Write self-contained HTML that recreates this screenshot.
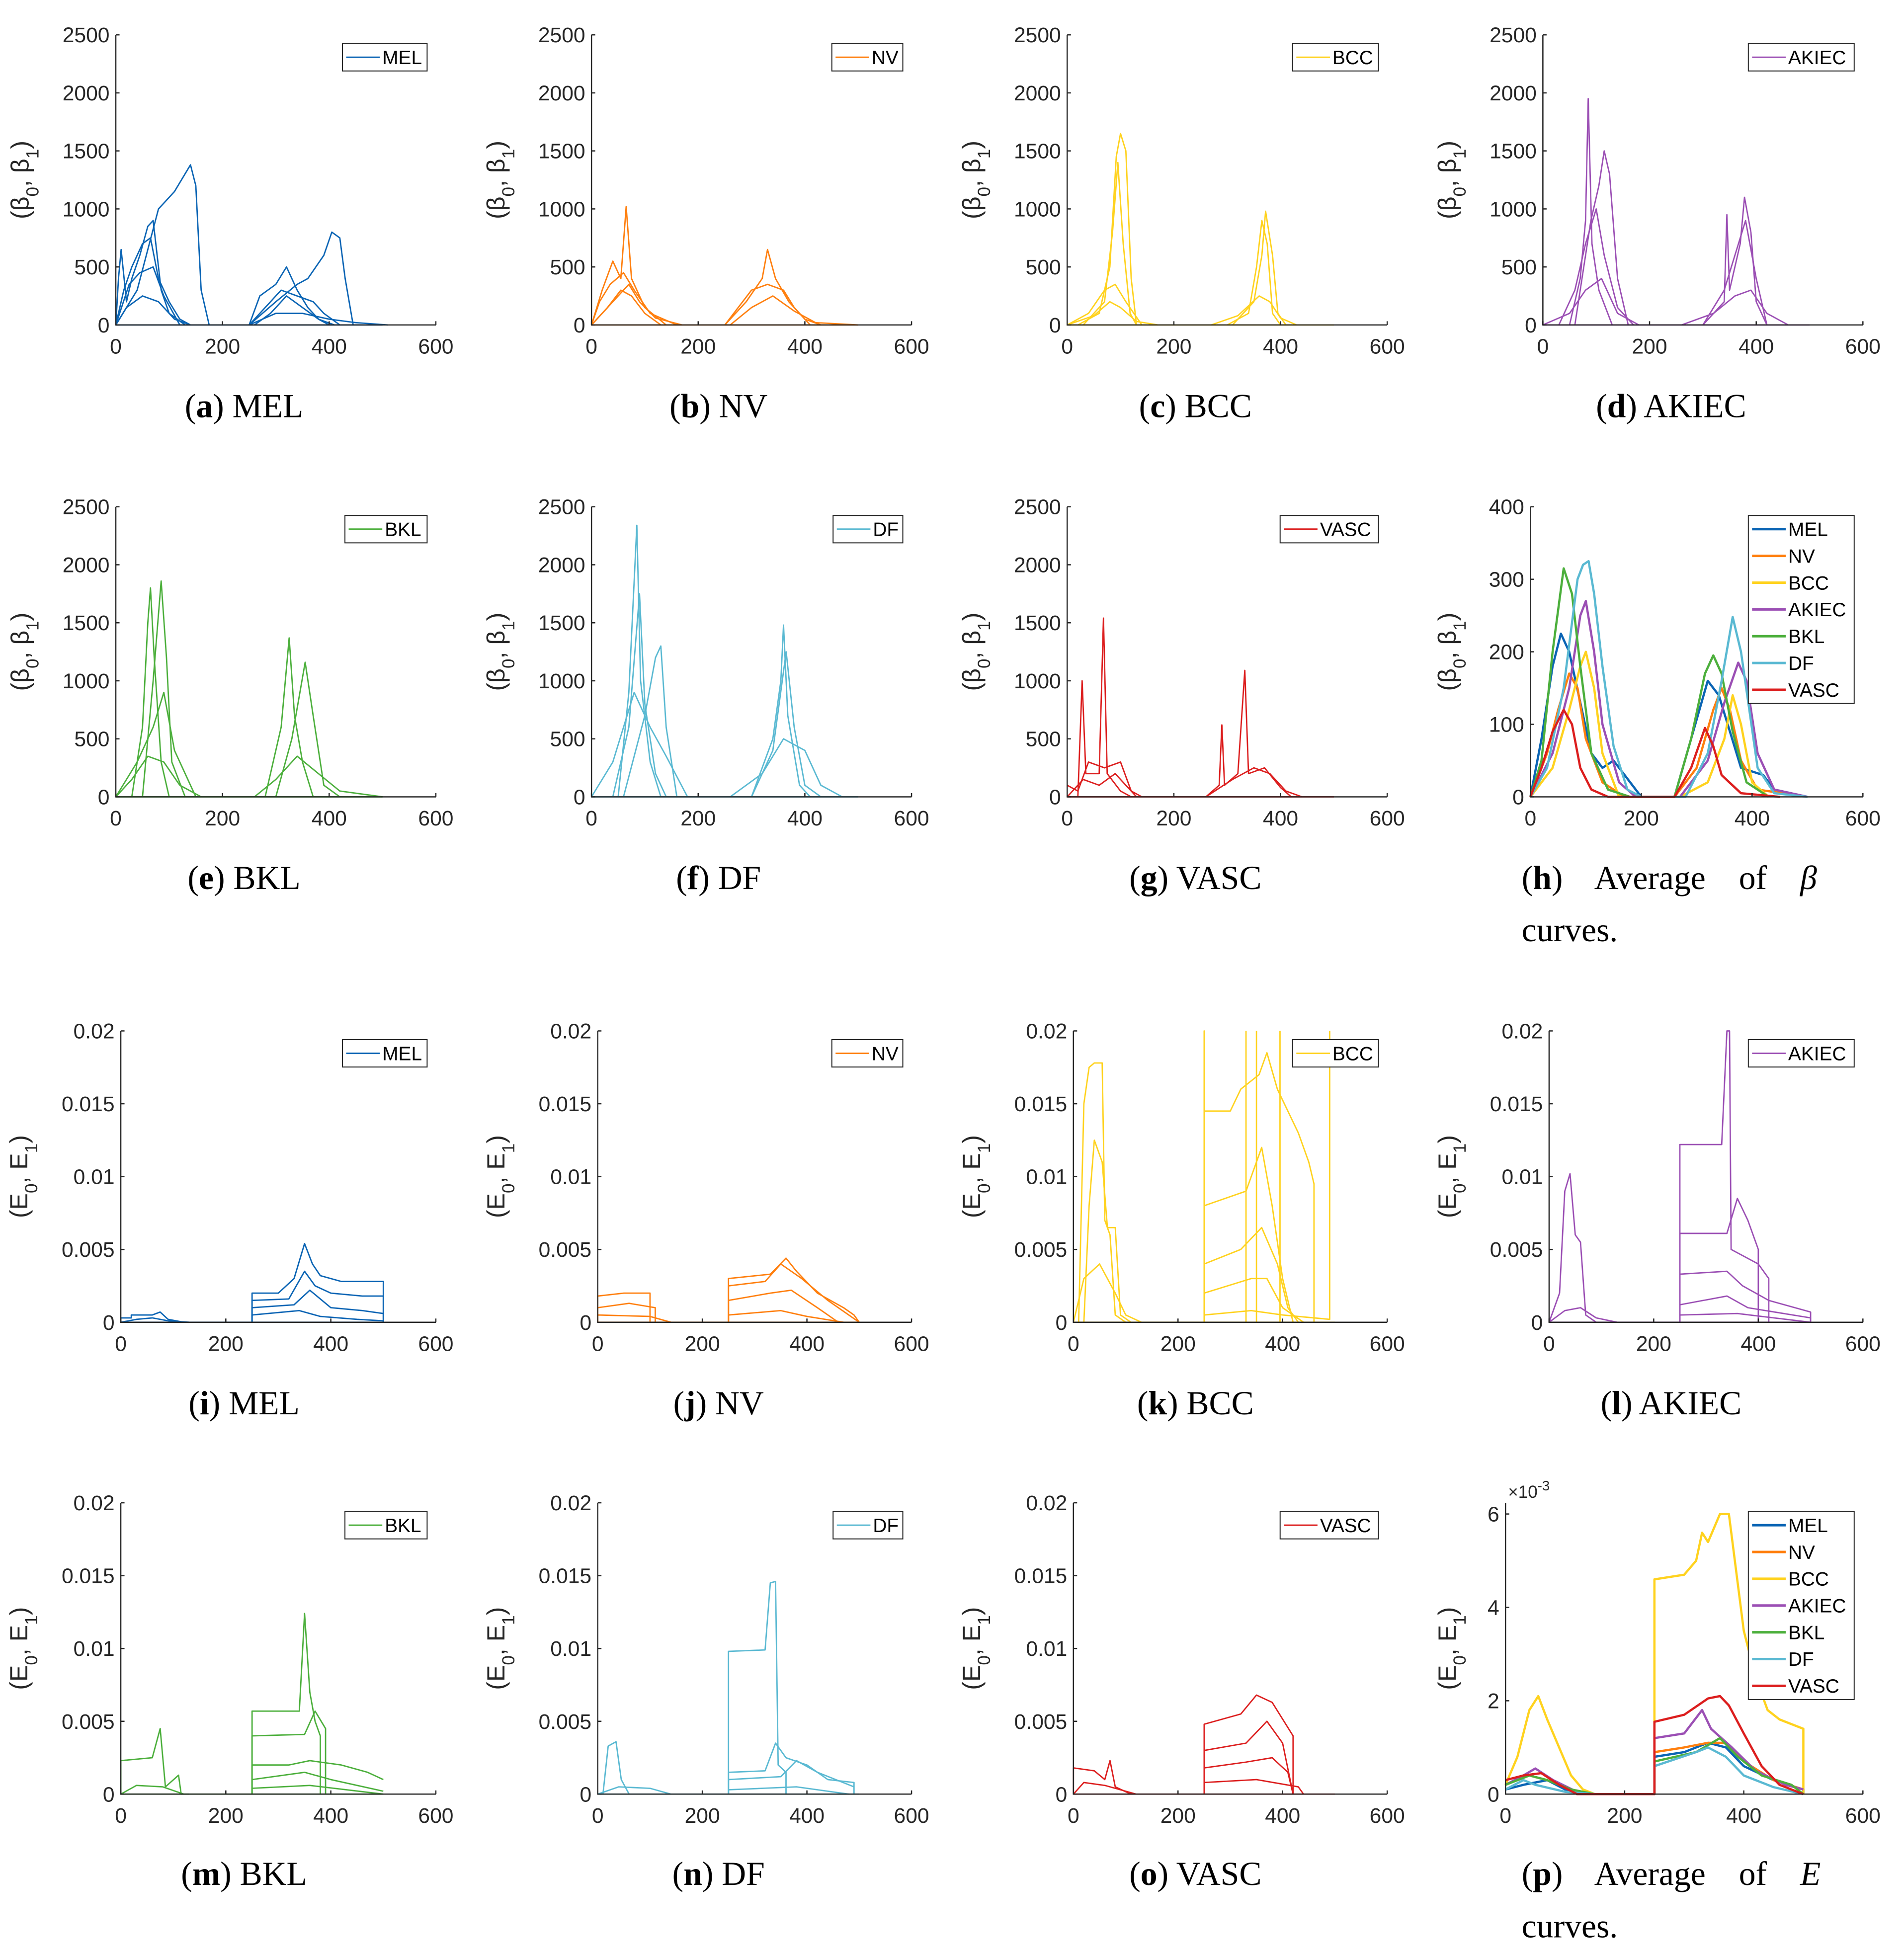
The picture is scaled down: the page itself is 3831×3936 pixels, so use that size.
<!DOCTYPE html>
<html><head><meta charset="utf-8"><style>
html,body{margin:0;padding:0;background:#fff}
svg{display:block}
text{font-family:"Liberation Sans",sans-serif}
.cap{font-family:"Liberation Serif",serif;font-size:27px}
</style></head><body>
<svg id="fig" width="3831" height="3936" viewBox="0 0 1529 1571" preserveAspectRatio="none" xmlns="http://www.w3.org/2000/svg"></svg>
<script>
// ---------- DATA (x = filtration index, y = curve value) ----------
const betaTicks = [0,500,1000,1500,2000,2500];
const avgBetaTicks = [0,100,200,300,400];
const eTicks = [0,5,10,15,20];          // units of 1e-3
const eTickLabels = ["0","0.005","0.01","0.015","0.02"];
const avgETicks = [0,2,4,6];             // units of 1e-3
const xTicks = [0,200,400,600];
const classes = ["MEL","NV","BCC","AKIEC","BKL","DF","VASC"];
const colors = ["#0a64b4","#ff7f0e","#ffd21e","#9b4fb4","#4caf3c","#5ab9d2","#dc1e1e"];

const melBeta = [
[[0,0],[500,0]],
[[0,0],[5,400],[10,650],[20,200],[30,400],[45,600],[60,850],[70,900],[85,300],[100,100],[130,0]],
[[0,0],[15,300],[30,500],[50,700],[65,750],[80,400],[100,200],[120,50],[140,0]],
[[0,0],[40,300],[80,1000],[110,1150],[140,1380],[150,1200],[160,300],[175,0]],
[[0,0],[20,150],[50,250],[80,200],[110,50],[140,0]],
[[0,0],[25,350],[45,450],[70,500],[90,250],[120,0]],
[[250,0],[270,250],[300,350],[320,500],[340,300],[360,150],[380,50],[400,0]],
[[250,0],[280,150],[310,300],[340,250],[370,200],[390,100],[420,0]],
[[250,0],[300,200],[340,350],[360,400],[390,600],[405,800],[420,750],[430,400],[445,0]],
[[260,0],[290,100],[320,250],[350,150],[380,50],[410,0]],
[[250,0],[300,100],[350,100],[400,50],[450,20],[510,0]]];
const nvBeta = [
[[0,0],[500,0]],
[[0,0],[20,300],[40,550],[55,400],[65,1020],[75,400],[100,150],[140,0]],
[[0,0],[15,200],[35,350],[60,450],[80,300],[110,100],[160,0]],
[[0,0],[30,150],[55,300],[75,250],[100,100],[130,0]],
[[0,0],[40,200],[70,350],[90,200],[120,60],[170,0]],
[[250,0],[290,200],[320,400],[330,650],[345,400],[370,200],[400,50],[430,0]],
[[250,0],[300,300],[330,350],[360,300],[380,150],[410,0]],
[[260,0],[300,150],[340,250],[380,120],[420,20],[500,0]]];
const bccBeta = [
[[0,0],[500,0]],
[[20,0],[60,100],[80,500],[92,1450],[100,1650],[110,1500],[120,400],[130,0]],
[[30,0],[70,200],[85,800],[95,1400],[105,700],[118,100],[130,0]],
[[0,0],[40,100],[70,300],[90,350],[110,200],[140,0]],
[[0,0],[50,80],[80,200],[100,150],[130,30],[170,0]],
[[300,0],[340,100],[355,500],[365,900],[375,700],[385,100],[400,0]],
[[310,0],[350,200],[365,600],[372,980],[385,600],[395,100],[410,0]],
[[270,0],[320,80],[360,250],[380,200],[400,60],[430,0]]];
const akiecBeta = [
[[0,0],[500,0]],
[[50,0],[70,400],[80,900],[85,1950],[92,700],[105,300],[130,0]],
[[60,0],[90,900],[105,1200],[115,1500],[125,1300],[140,400],[160,0]],
[[30,0],[60,300],[80,700],[100,1000],[115,600],[140,150],[170,0]],
[[0,0],[50,100],[80,300],[110,400],[140,100],[180,0]],
[[300,0],[340,200],[345,950],[350,300],[370,700],[378,1100],[390,800],[400,200],[420,0]],
[[300,0],[340,300],[360,600],[380,900],[400,400],[420,0]],
[[260,0],[320,100],[360,250],[390,300],[420,100],[460,0]]];
const bklBeta = [
[[0,0],[500,0]],
[[30,0],[50,600],[60,1500],[65,1800],[72,1200],[85,300],[100,0]],
[[50,0],[70,1000],[85,1860],[95,1200],[105,300],[130,0]],
[[0,0],[40,300],[70,600],[90,900],[110,400],[150,0]],
[[0,0],[30,150],[60,350],[90,300],[120,100],[160,0]],
[[280,0],[310,600],[325,1370],[335,700],[350,300],[370,0]],
[[300,0],[330,500],[355,1160],[370,700],[390,100],[420,0]],
[[260,0],[300,150],[340,350],[380,200],[420,50],[500,0]]];
const dfBeta = [
[[0,0],[500,0]],
[[50,0],[70,900],[85,2340],[92,1000],[110,300],[130,0]],
[[40,0],[70,600],[90,1750],[100,800],[120,200],[140,0]],
[[60,0],[100,700],[120,1200],[130,1300],[140,600],[160,0]],
[[0,0],[40,300],[80,900],[110,600],[140,350],[180,0]],
[[300,0],[340,500],[355,1000],[360,1480],[368,700],[390,100],[410,0]],
[[300,0],[340,400],[365,1250],[380,600],[400,100],[430,0]],
[[260,0],[320,200],[360,500],[400,400],[430,100],[470,0]]];
const vascBeta = [
[[0,0],[500,0]],
[[20,0],[28,1000],[35,200],[60,200],[68,1540],[75,200],[100,50],[120,0]],
[[0,100],[20,50],[40,300],[70,250],[100,300],[120,50],[140,0]],
[[0,0],[30,150],[60,100],[90,200],[130,0]],
[[260,0],[285,100],[290,620],[295,100],[320,200],[333,1090],[340,200],[370,250],[400,80],[420,0]],
[[260,0],[310,150],[350,250],[380,200],[410,50],[440,0]]];
const avgBeta = [
[[0,0],[20,80],[40,180],[55,225],[70,200],[90,130],[110,60],[130,40],[150,50],[170,30],[200,0],[260,0],[290,80],[320,160],[340,140],[360,90],[380,40],[400,35],[420,30],[440,10],[500,0]],
[[0,0],[30,60],[50,120],[70,170],[85,150],[100,80],[130,20],[170,0],[260,0],[300,40],[330,120],[345,150],[360,120],[380,50],[410,10],[500,0]],
[[0,0],[40,40],[70,120],[90,180],[100,200],[115,150],[130,60],[160,0],[270,0],[320,20],[350,80],[365,140],[380,100],[400,20],[430,0]],
[[0,0],[40,60],[70,150],[90,250],[100,270],[115,200],[130,100],[160,20],[190,0],[270,0],[320,50],[350,130],[375,185],[390,160],[410,60],[440,10],[500,0]],
[[0,0],[20,50],[40,200],[60,315],[75,280],[90,180],[110,60],[140,10],[180,0],[260,0],[290,80],[315,170],[330,195],[345,170],[365,90],[390,20],[430,0]],
[[0,0],[30,40],[60,150],[85,300],[95,320],[105,325],[115,280],[130,180],[150,70],[175,10],[200,0],[280,0],[320,60],[345,160],[365,248],[380,200],[395,120],[410,40],[440,5],[500,0]],
[[0,0],[20,40],[40,90],[60,120],[75,100],[90,40],[110,10],[140,0],[260,0],[290,40],[315,95],[330,70],[345,30],[380,5],[450,0]]];

// E curves in units of 1e-3
const melE = [
[[0,0],[500,0]],
[[0,0.3],[20,0.3],[20,0.5],[60,0.5],[75,0.7],[90,0.2],[120,0]],
[[0,0],[30,0.2],[60,0.3],[90,0.1],[130,0]],
[[250,0],[250,2.0],[300,2.0],[330,3.0],[350,5.4],[365,4.0],[380,3.2],[420,2.8],[500,2.8],[500,0]],
[[250,0],[250,1.5],[320,1.6],[350,3.5],[370,2.5],[400,2.0],[460,1.8],[500,1.8],[500,0]],
[[250,0],[250,1.0],[330,1.2],[360,2.2],[400,1.0],[460,0.8],[500,0.6],[500,0]],
[[250,0],[250,0.5],[340,0.8],[380,0.4],[450,0.2],[500,0.1],[500,0]]];
const nvE = [
[[0,0],[500,0]],
[[0,0],[0,1.8],[50,2.0],[100,2.0],[100,0]],
[[0,0],[0,1.0],[60,1.3],[110,1.0],[110,0]],
[[0,0],[0,0.5],[100,0.4],[140,0]],
[[250,0],[250,3.0],[330,3.3],[360,4.4],[380,3.5],[420,2.0],[470,1.0],[490,0.5],[500,0]],
[[250,0],[250,2.5],[320,2.8],[350,4.0],[390,3.0],[440,1.5],[480,0.5],[500,0]],
[[250,0],[250,1.5],[330,2.0],[370,2.2],[420,1.0],[460,0]],
[[250,0],[250,0.5],[350,0.8],[400,0.4],[470,0]]];
const bccE = [
[[0,0],[500,0]],
[[10,0],[20,15],[30,17.5],[40,17.8],[55,17.8],[60,7],[70,6],[80,0.5],[100,0]],
[[20,0],[30,8],[40,12.5],[55,11],[65,6.5],[80,6.5],[90,0.5],[110,0]],
[[0,0],[20,3],[50,4],[80,2],[100,0.5],[130,0]],
[[250,0],[250,20],[250,14.5],[300,14.5],[320,16],[355,17],[370,18.5],[390,16],[430,13],[450,11],[460,9.5],[460,0]],
[[250,0],[250,8],[330,9],[360,12],[380,8],[400,3],[420,0]],
[[250,0],[250,4],[320,5],[360,6.5],[390,4],[410,1],[430,0]],
[[250,0],[250,2],[340,3],[370,3],[400,1],[440,0]],
[[250,0],[250,0.5],[340,0.8],[400,0.5],[490,0.2],[490,20]],
[[330,0],[330,20]],[[350,0],[350,20]],[[395,0],[395,20]]];
const akiecE = [
[[0,0],[500,0]],
[[0,0],[20,2],[30,9],[40,10.2],[50,6],[60,5.5],[70,0.5],[90,0]],
[[0,0],[30,0.8],[60,1.0],[90,0.3],[130,0]],
[[250,0],[250,12.2],[330,12.2],[340,20],[345,20],[348,5],[400,4],[420,3],[420,0]],
[[250,0],[250,6.1],[340,6.1],[360,8.5],[380,7],[400,5],[400,0]],
[[250,0],[250,3.3],[340,3.5],[370,2.5],[420,1.5],[500,0.7],[500,0]],
[[250,0],[250,1.2],[340,1.8],[380,1.0],[500,0.3],[500,0]],
[[250,0],[250,0.5],[360,0.6],[500,0]]];
const bklE = [
[[0,0],[500,0]],
[[0,0],[0,2.3],[60,2.5],[75,4.5],[85,0.5],[110,1.3],[115,0],[130,0]],
[[0,0],[30,0.6],[80,0.5],[120,0]],
[[250,0],[250,5.7],[340,5.7],[350,12.4],[360,7],[370,5],[380,4],[380,0]],
[[250,0],[250,4.0],[350,4.1],[370,5.7],[390,4.5],[390,0]],
[[250,0],[250,2.0],[320,2.0],[360,2.3],[420,2.0],[470,1.5],[500,1.0]],
[[250,0],[250,1.0],[350,1.5],[400,1.0],[500,0.2]],
[[250,0],[250,0.4],[360,0.6],[500,0]]];
const dfE = [
[[0,0],[500,0]],
[[10,0],[20,3.3],[35,3.6],[45,1.0],[60,0]],
[[0,0],[40,0.5],[100,0.4],[140,0]],
[[250,0],[250,9.8],[320,9.9],[330,14.5],[340,14.6],[345,2],[360,1.5],[360,0]],
[[250,0],[250,1.5],[320,1.6],[340,3.5],[360,2.5],[400,2.0],[440,1],[490,0.8],[490,0]],
[[250,0],[250,1.0],[350,1.2],[380,2.3],[420,1.5],[490,0.5]],
[[250,0],[250,0.3],[380,0.5],[480,0]]];
const vascE = [
[[0,0],[500,0]],
[[0,0],[0,1.8],[40,1.6],[60,1.0],[70,2.3],[80,0.5],[110,0]],
[[0,0],[20,0.8],[60,0.6],[120,0]],
[[250,0],[250,4.8],[320,5.5],[350,6.8],[380,6.3],[420,4.0],[420,0]],
[[250,0],[250,3.0],[330,3.5],[370,5.0],[400,3.5],[420,0]],
[[250,0],[250,1.8],[330,2.2],[380,2.5],[410,1.5],[420,0]],
[[250,0],[250,0.8],[350,1.0],[430,0.5],[440,0]]];
const avgE = [
[[0,0.1],[30,0.2],[70,0.3],[100,0.1],[150,0],[250,0],[250,0.8],[300,0.9],[340,1.1],[370,1.0],[400,0.6],[450,0.3],[500,0.1],[500,0]],
[[0,0.2],[40,0.4],[70,0.3],[110,0.1],[150,0],[250,0],[250,0.9],[300,1.0],[340,1.1],[370,1.1],[400,0.7],[450,0.3],[500,0.1]],
[[0,0.2],[20,0.8],[40,1.8],[55,2.1],[70,1.6],[90,1.0],[110,0.4],[130,0.1],[150,0],[250,0],[250,4.6],[300,4.7],[320,5.0],[330,5.6],[340,5.4],[350,5.7],[360,6.0],[375,6.0],[385,5.0],[400,3.5],[420,2.5],[440,1.8],[460,1.6],[480,1.5],[500,1.4],[500,0]],
[[0,0.2],[30,0.4],[50,0.55],[80,0.3],[120,0.05],[150,0],[250,0],[250,1.2],[300,1.3],[330,1.8],[345,1.4],[380,1.0],[420,0.5],[470,0.2],[500,0.1]],
[[0,0.2],[40,0.4],[70,0.3],[110,0.1],[150,0],[250,0],[250,0.7],[320,0.9],[360,1.2],[390,0.8],[430,0.4],[480,0.2],[500,0]],
[[0,0.1],[30,0.3],[50,0.2],[100,0.05],[150,0],[250,0],[250,0.6],[320,0.9],[340,1.0],[370,0.8],[400,0.4],[450,0.15],[500,0]],
[[0,0.3],[30,0.4],[60,0.45],[90,0.2],[120,0],[250,0],[250,1.55],[300,1.7],[340,2.05],[360,2.1],[375,1.9],[400,1.3],[430,0.6],[460,0.2],[500,0]]];

// ---------- RENDER ----------
const NS = "http://www.w3.org/2000/svg";
const svg = document.getElementById("fig");
function el(tag, attrs, parent, txt){
  const e = document.createElementNS(NS, tag);
  for (const k in attrs) e.setAttribute(k, attrs[k]);
  if (txt !== undefined) e.textContent = txt;
  (parent || svg).appendChild(e);
  return e;
}
function drawPanel(p){
  const g = el("g", {}, svg);
  
  
  const sx = v => p.L + (v/600)*(p.R - p.L);
  const sy = v => p.B - (v/p.ymax)*(p.B - p.T);
  p.curves.forEach((c, ci) => {
    const d = c.map((pt,i)=>(i?"L":"M")+sx(pt[0]).toFixed(2)+","+sy(Math.min(pt[1],p.ymax)).toFixed(2)).join("");
    const col = p.multi ? colors[ci] : p.color;
    const path = el("path", {d:d, fill:"none", stroke:col, "stroke-width": p.multi?1.8:1.1, "stroke-linejoin":"round"}, g);
    
    
  });
  const ax = el("path", {d:`M${p.L},${p.T}L${p.L},${p.B}L${p.R},${p.B}`, fill:"none", stroke:"#262626", "stroke-width":1}, g);
  
  
  xTicks.forEach(t => {
    el("line", {x1:sx(t), x2:sx(t), y1:p.B, y2:p.B-3, stroke:"#262626"}, g);
    const tx = el("text", {x:sx(t), y:p.B+23, "text-anchor":"middle", "font-size":17, fill:"#262626"}, g, String(t));
    
    
  });
  p.yticks.forEach((t, i) => {
    el("line", {x1:p.L, x2:p.L+3, y1:sy(t), y2:sy(t), stroke:"#262626"}, g);
    const ty = el("text", {x:p.L-5, y:sy(t)+6, "text-anchor":"end", "font-size":17, fill:"#262626"}, g, p.ylabels ? p.ylabels[i] : String(t));
    
    
  });
  const yl = el("text", {x:0, y:0, "font-size":20, fill:"#262626", "text-anchor":"middle", transform:`translate(${p.L-p.ylOff},${(p.T+p.B)/2}) rotate(-90)`}, g);
  
  
  const sym = p.beta ? "β" : "E";
  el("tspan", {}, yl, "(" + sym);
  el("tspan", {"baseline-shift":"sub", "font-size":14}, yl, "0");
  el("tspan", {}, yl, ", " + sym);
  el("tspan", {"baseline-shift":"sub", "font-size":14}, yl, "1");
  el("tspan", {}, yl, ")");
  if (p.exp) {
    const ex = el("text", {x:p.L+2, y:p.T-4, "font-size":14, fill:"#262626"}, g, "×10");
    
    
    el("tspan", {"baseline-shift":"super", "font-size":11}, ex, "-3");
  }
  const names = p.multi ? classes : [p.name];
  const lw = p.lw, lh = p.multi ? 151 : 22;
  const lx = p.R - 7 - lw, ly = p.T + 7;
  const lg = el("g", {}, g);
  
  
  el("rect", {x:lx, y:ly, width:lw, height:lh, fill:"#fff", stroke:"#262626", "stroke-width":0.8}, lg);
  names.forEach((n, i) => {
    const yy = ly + 11 + i*21.5;
    const col = p.multi ? colors[i] : p.color;
    el("line", {x1:lx+3, x2:lx+30, y1:yy, y2:yy, stroke:col, "stroke-width":p.multi?2:1.2}, lg);
    const lt = el("text", {x:lx+32, y:yy+5.5, "font-size":15.5, fill:"#000"}, lg, n);
    
    
  });
  const cap = el("text", {class:"cap", x:p.capX, y:p.capY, "text-anchor":p.capLines?"start":"middle", fill:"#000"}, g);
  
  
  if (p.capLines) cap.setAttribute("word-spacing", "20");
  el("tspan", {}, cap, "(");
  el("tspan", {"font-weight":"bold"}, cap, p.id);
  el("tspan", {}, cap, ")" + (p.capLines ? "" : " " + p.name));
  if (p.capLines) {
    el("tspan", {}, cap, " Average of ");
    el("tspan", {"font-style":"italic"}, cap, p.beta ? "β" : "E");
    el("tspan", {x:p.capX, dy:42}, cap, "curves.");
  }
}
const colL = [[93,475,857,1239],[93,475,857,1229],[97,480,862,1244],[97,480,862,1209]];
const colR = [350,732,1114,1496];
const rowTB = [[28,261],[407,640],[828,1062],[1207,1441]];
const capY = [335,714,1136,1514];
const capXs = [196,577,960,1342];
const betaSets = [melBeta,nvBeta,bccBeta,akiecBeta,bklBeta,dfBeta,vascBeta];
const eSets = [melE,nvE,bccE,akiecE,bklE,dfE,vascE];
const lws = [68,57,69,85,66,56,79];
const ids = "abcdefghijklmnop".split("");
for (let r=0;r<4;r++) for (let c=0;c<4;c++){
  const k = (r%2)*4 + c;
  const beta = r<2;
  const multi = k===7;
  const p = {
    id: ids[r*4+c], L: colL[r][c], R: colR[c], T: rowTB[r][0], B: rowTB[r][1],
    beta: beta, multi: multi, capY: capY[r], capX: multi ? 1222 : capXs[c],
    capLines: multi
  };
  if (beta) {
    p.ymax = multi ? 400 : 2500; p.yticks = multi ? avgBetaTicks : betaTicks;
    p.curves = multi ? avgBeta : betaSets[k]; p.ylOff = multi ? 60 : 70;
  } else {
    p.ymax = multi ? 6.24 : 20; p.yticks = multi ? avgETicks : eTicks;
    p.ylabels = multi ? null : eTickLabels;
    p.curves = multi ? avgE : eSets[k]; p.ylOff = multi ? 40 : 75; p.exp = multi;
  }
  if (multi) { p.lw = 85; } else { p.name = classes[k]; p.color = colors[k]; p.lw = lws[k]; }
  drawPanel(p);
}
</script>
</body></html>
